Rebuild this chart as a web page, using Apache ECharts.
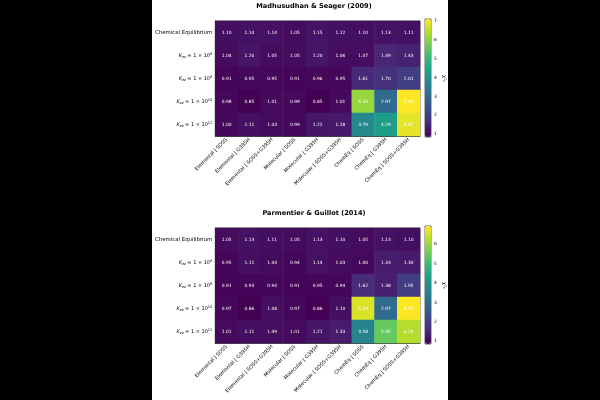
<!DOCTYPE html>
<html>
<head>
<meta charset="utf-8">
<script src="https://cdn.jsdelivr.net/npm/echarts@6/dist/echarts.min.js"></script>
<style>
  html, body { margin: 0; padding: 0; background: #000; }
  #main { position: absolute; left: 152px; top: 0; width: 296px; height: 400px; background: #fff; }
</style>
</head>
<body>
<div id="main"></div>
<script>
// categories
var xCats = ['Elemental | SOSS', 'Elemental | G395H', 'Elemental | SOSS+G395H',
    'Molecular | SOSS', 'Molecular | G395H', 'Molecular | SOSS+G395H',
    'ChemEq | SOSS', 'ChemEq | G395H', 'ChemEq | SOSS+G395H']
var yCats = ['ce', '6', '8', '10', '12']

// Madhusudhan & Seager (2009) reduced chi^2 ratios, one row per y category
var ms09 = [
    [1.10, 1.14, 1.14, 1.05, 1.15, 1.12, 1.10, 1.13, 1.11],
    [1.04, 1.20, 1.05, 1.05, 1.20, 1.06, 1.07, 1.49, 1.43],
    [0.91, 0.95, 0.95, 0.91, 0.96, 0.95, 1.61, 1.70, 2.01],
    [0.98, 0.85, 1.01, 0.99, 0.85, 1.01, 6.10, 2.97, 7.09],
    [1.00, 1.11, 1.03, 0.99, 1.22, 1.28, 3.79, 4.29, 6.87]
]
// Parmentier & Guillot (2014)
var pg14 = [
    [1.05, 1.13, 1.11, 1.05, 1.13, 1.10, 1.05, 1.13, 1.10],
    [0.95, 1.11, 1.04, 0.94, 1.14, 1.03, 1.00, 1.33, 1.30],
    [0.91, 0.93, 0.94, 0.91, 0.95, 0.94, 1.62, 1.38, 1.95],
    [0.97, 0.86, 1.08, 0.97, 0.86, 1.10, 6.59, 2.97, 6.92],
    [1.01, 1.11, 1.09, 1.01, 1.21, 1.33, 3.58, 5.45, 6.24]
]
var cbTicks1 = [1, 2, 3, 4, 5, 6, 7]
var cbTicks2 = [1, 2, 3, 4, 5, 6]

var viridis = ['#440154', '#482878', '#3e4989', '#31688e', '#26828e',
    '#1f9e89', '#35b779', '#6ece58', '#b5de2b', '#fde725']

function toCells(rows) {
    var out = []
    rows.forEach(function (r, yi) {
        r.forEach(function (v, xi) { out.push([xi, yi, v]) })
    })
    return out
}
function flatMin(rows) { return Math.min.apply(null, [].concat.apply([], rows)) }
function flatMax(rows) { return Math.max.apply(null, [].concat.apply([], rows)) }

var FONT = 'DejaVu Sans'
var hmLeft = 62, hmW = 206, hmH = 115
var tops = [21, 228]
var cbLeft = 273, cbW = 6
var datasets = [ms09, pg14]
var titles = ['Madhusudhan & Seager (2009)', 'Parmentier & Guillot (2014)']
var ticks = [cbTicks1, cbTicks2]

var yLabelFmt = function (v) {
    if (v === 'ce') return 'Chemical Equilibrium'
    return '{k|K}{s|zz}{n| = 1 × 10}{p|' + v + '}'
}
var yRich = {
    k: { fontFamily: FONT, fontSize: 5, fontStyle: 'italic', color: '#000' },
    s: { fontFamily: FONT, fontSize: 3.5, fontStyle: 'italic', color: '#000', verticalAlign: 'bottom', padding: [3, 0, 0, 0] },
    n: { fontFamily: FONT, fontSize: 5, color: '#000' },
    p: { fontFamily: FONT, fontSize: 3.5, color: '#000', verticalAlign: 'top', padding: [0, 0, 3, 0] }
}

var option = {
    animation: false,
    backgroundColor: '#fff',
    title: [],
    grid: [],
    xAxis: [],
    yAxis: [],
    visualMap: [],
    series: [],
    graphic: []
}

datasets.forEach(function (rows, i) {
    var top = tops[i]
    var lo = flatMin(rows), hi = flatMax(rows)
    option.title.push({
        text: titles[i], left: hmLeft + hmW / 2 - 3, top: top - 18, textAlign: 'center', padding: 0,
        textStyle: { fontFamily: FONT, fontSize: 6.6, fontWeight: 'bold', color: '#000' }
    })
    // heatmap grid
    option.grid.push({ left: hmLeft, top: top, width: hmW, height: hmH, show: true,
        borderColor: '#000', borderWidth: 0.6, backgroundColor: 'transparent', containLabel: false })
    option.xAxis.push({
        type: 'category', data: xCats, gridIndex: 2 * i,
        axisLine: { lineStyle: { color: '#000', width: 0.6 } },
        axisTick: { alignWithLabel: true, length: 2, lineStyle: { color: '#000', width: 0.5 } },
        axisLabel: { rotate: 45, interval: 0, fontFamily: FONT, fontSize: 5, color: '#000', margin: 3 },
        splitLine: { show: false }
    })
    option.yAxis.push({
        type: 'category', data: yCats, gridIndex: 2 * i, inverse: true,
        axisLine: { lineStyle: { color: '#000', width: 0.6 } },
        axisTick: { alignWithLabel: true, length: 2, lineStyle: { color: '#000', width: 0.5 } },
        axisLabel: { interval: 0, fontFamily: FONT, fontSize: 5.4, color: '#000', margin: 3,
            formatter: yLabelFmt, rich: yRich },
        splitLine: { show: false }
    })
    option.series.push({
        type: 'heatmap', xAxisIndex: 2 * i, yAxisIndex: 2 * i,
        data: toCells(rows),
        label: { show: true, color: '#fff', fontFamily: FONT, fontSize: 4.4,
            formatter: function (p) { return p.value[2].toFixed(2) } },
        emphasis: { disabled: true },
        itemStyle: { borderWidth: 0 }
    })
    // colour bar
    var cbTop = top - 2, cbH = hmH + 3
    option.visualMap.push({
        type: 'continuous', seriesIndex: i, min: lo, max: hi, dimension: 2,
        orient: 'vertical', left: cbLeft, top: cbTop, itemWidth: cbW, itemHeight: cbH,
        padding: 0, calculable: false, realtime: false, text: null, showLabel: false,
        inRange: { color: viridis }
    })
    // colour bar axis (ticks only)
    option.grid.push({ left: cbLeft, top: cbTop, width: cbW, height: cbH, show: true,
        borderColor: '#000', borderWidth: 0.6, backgroundColor: 'transparent' })
    option.xAxis.push({ type: 'value', gridIndex: 2 * i + 1, show: false, min: 0, max: 1 })
    option.yAxis.push({
        type: 'value', gridIndex: 2 * i + 1, position: 'right', min: lo, max: hi,
        axisLine: { show: false },
        axisTick: { show: true, length: 2, customValues: ticks[i], lineStyle: { color: '#000', width: 0.5 } },
        axisLabel: { fontFamily: FONT, fontSize: 4.5, color: '#000', margin: 3, customValues: ticks[i] },
        splitLine: { show: false }
    })
    option.graphic.push({
        type: 'text', x: 292, y: top + hmH / 2, rotation: -Math.PI / 2,
        style: { text: 'χ²ᵥ', fontFamily: FONT, fontSize: 5, fill: '#000', align: 'center', verticalAlign: 'middle' }
    })
})

var chart = echarts.init(document.getElementById('main'), null, { renderer: 'canvas' })
chart.setOption(option)
</script>
</body>
</html>
